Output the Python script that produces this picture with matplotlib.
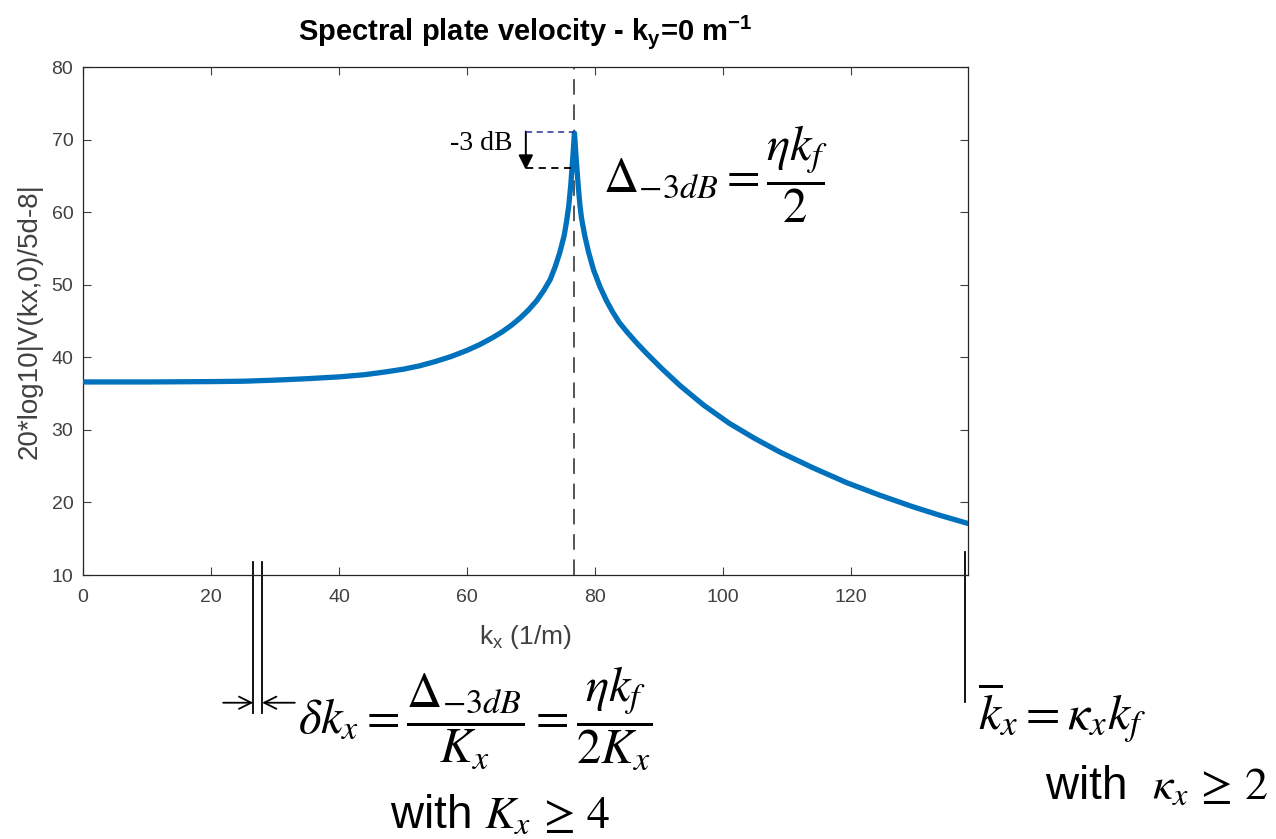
import numpy as np
import matplotlib
matplotlib.use('Agg')
import matplotlib.pyplot as plt

plt.rcParams['font.family'] = ['Liberation Sans', 'DejaVu Sans']
plt.rcParams['mathtext.fontset'] = 'stix'
plt.rcParams['mathtext.rm'] = 'Liberation Sans'
plt.rcParams['mathtext.bf'] = 'Liberation Sans:bold'
plt.rcParams['mathtext.it'] = 'Liberation Sans:italic'

# curve: kx (1/m) vs level (dB)
kx = [0, 10, 20, 25, 30, 35, 40, 44, 47, 50, 52.5, 55, 57.5, 60, 62, 64, 65.5,
      67, 68.3, 69.6, 70.9, 72.0, 73.0, 73.8, 74.5, 75.2, 75.6, 75.9, 76.2,
      76.5, 76.8,
      77.1, 77.4, 77.65, 77.9, 78.4, 79.0, 79.8, 80.8, 81.8, 82.8, 83.8,
      85.0, 86.5, 88, 90.5, 93.3, 97, 101, 105, 109, 114, 119.4, 124.5,
      129.7, 134, 138.3]
level = [36.6, 36.6, 36.65, 36.7, 36.85, 37.05, 37.3, 37.6, 37.95, 38.35,
         38.8, 39.4, 40.1, 40.95, 41.75, 42.7, 43.5, 44.45, 45.4, 46.5, 47.8,
         49.2, 50.7, 52.5, 54.4, 56.8, 58.9, 60.8, 63.5, 67.0, 70.9,
         67.0, 63.5, 61.0, 59.2, 56.8, 54.5, 52.0, 49.7, 47.8, 46.2, 44.8,
         43.5, 42.0, 40.6, 38.4, 36.1, 33.4, 30.9, 28.8, 26.9, 24.8,
         22.7, 21.0, 19.4, 18.2, 17.1]

k_f = 76.8          # resonance wavenumber (dashed line)
peak = 71.1
minus3 = 66.05
dk_lines = [26.6, 28.0]
kbar = 137.8
xticks = [0, 20, 40, 60, 80, 100, 120]
yticks = [10, 20, 30, 40, 50, 60, 70, 80]

W, H = 1276, 839
fig = plt.figure(figsize=(W / 100, H / 100), dpi=100)
ax = fig.add_axes([83 / W, 1 - 575 / H, (968 - 83) / W, (575 - 67) / H])

ax.plot(kx, level, color='#0072BD', lw=3.8, solid_joinstyle='round', zorder=3)
ax.axvline(k_f, color='#555555', ls=(0, (8, 5)), lw=1.4, zorder=2)

ax.set_xlim(0, 138.3)
ax.set_ylim(10, 80)
ax.set_xticks(xticks)
ax.set_yticks(yticks)
ax.tick_params(direction='in', length=6, width=0.8, top=True, right=True,
               labelsize=14, colors='#404040')
ax.tick_params(axis='x', pad=10)
ax.tick_params(axis='y', pad=7)
for s in ax.spines.values():
    s.set_color('#262626')
    s.set_linewidth(0.9)

ax.set_title(r'Spectral plate velocity - k$_{\mathbf{y}}$=0 m$^{\mathbf{-1}}$',
             fontsize=21, fontweight='bold', pad=19, math_fontfamily='custom')
ax.set_xlabel(r'k$_{\mathrm{x}}$ (1/m)', fontsize=19, color='#404040',
              labelpad=12, math_fontfamily='custom')
ax.set_ylabel('20*log10|V(kx,0)/5d-8|', fontsize=20, color='#404040', labelpad=6)

# -3 dB marker
ax.plot([69.2, k_f], [peak, peak], color='#2e2e9e', ls=(0, (4, 3)), lw=1.1, zorder=4)
ax.plot([69.2, k_f], [minus3, minus3], color='black', ls=(0, (4, 3)), lw=1.3, zorder=4)
ax.annotate('', xy=(69.2, minus3 - 0.2), xytext=(69.2, peak),
            arrowprops=dict(arrowstyle='-|>', color='black', lw=1.4,
                            mutation_scale=22, shrinkA=0, shrinkB=0))
ax.text(67.1, 69.4, '-3 dB', family='Liberation Serif', fontsize=20,
        ha='right', va='center')

# delta k lines and arrows below the axes
for xv in dk_lines:
    ax.plot([xv, xv], [11.8, -9.0], color='black', lw=1.3, clip_on=False)
ax.annotate('', xy=(dk_lines[0], -7.6), xytext=(21.9, -7.6), annotation_clip=False,
            arrowprops=dict(arrowstyle='->', color='black', lw=1.3,
                            mutation_scale=22, shrinkA=0, shrinkB=0))
ax.annotate('', xy=(dk_lines[1], -7.6), xytext=(33.1, -7.6), annotation_clip=False,
            arrowprops=dict(arrowstyle='->', color='black', lw=1.3,
                            mutation_scale=22, shrinkA=0, shrinkB=0))
ax.plot([kbar, kbar], [13.2, -7.5], color='black', lw=1.3, clip_on=False)

# formulas
fig.text(603 / W, 1 - 174 / H, r'$\Delta_{-3dB} = \dfrac{\eta k_f}{2}$',
         fontsize=35, ha='left', va='center', math_fontfamily='stix')
fig.text(298 / W, 1 - 718 / H,
         r'$\delta k_x = \dfrac{\Delta_{-3dB}}{K_x} = \dfrac{\eta k_f}{2K_x}$',
         fontsize=35, ha='left', va='center', math_fontfamily='stix')
fig.text(390 / W, 1 - 816 / H, r'with $K_x \,\geq\, 4$', fontsize=33,
         ha='left', va='center', math_fontfamily='stix')
fig.text(978 / W, 1 - 713 / H, r'$\overline{k}_x = \kappa_x k_f$', fontsize=36,
         ha='left', va='center', math_fontfamily='stix')
fig.text(1045 / W, 1 - 787 / H, r'with  $\kappa_x \,\geq\, 2$', fontsize=33,
         ha='left', va='center', math_fontfamily='stix')

fig.savefig('out.png', dpi=100)
